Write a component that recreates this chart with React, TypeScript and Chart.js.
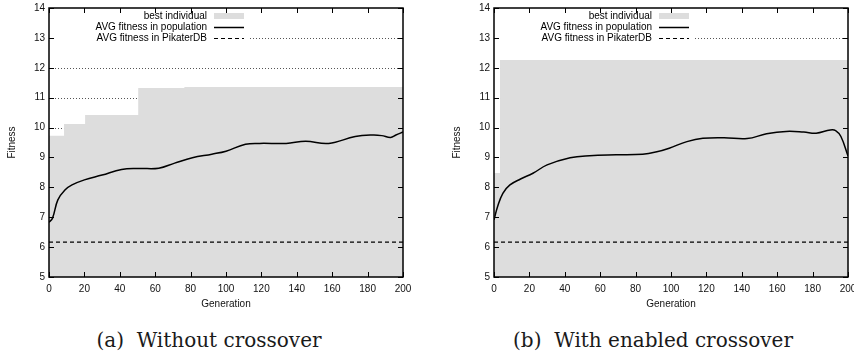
import React, { useEffect, useRef } from "react";
import { Chart, registerables } from "chart.js";

Chart.register(...registerables);

// ---------- data ----------
const GEN_TICKS = [0, 20, 40, 60, 80, 100, 120, 140, 160, 180, 200];
const FITNESS_TICKS = [5, 6, 7, 8, 9, 10, 11, 12, 13, 14];
const LEGEND_LABELS = ["best individual", "AVG fitness in population", "AVG fitness in PikaterDB"];

// (a) Without crossover
const leftBestGen = [0, 8.5, 20.4, 50.4, 76.5, 200];
const leftBestFitness = [9.73, 10.12, 10.42, 11.32, 11.36, 11.36];
const leftAvgGen = [0, 2, 5, 9, 13, 20, 30, 41, 51, 62, 71, 81, 92, 100, 111, 119, 134, 145, 158, 173, 183, 188, 193, 196, 200];
const leftAvgFitness = [6.83, 6.97, 7.58, 7.91, 8.08, 8.25, 8.41, 8.6, 8.63, 8.64, 8.81, 8.99, 9.11, 9.21, 9.44, 9.47, 9.47, 9.54, 9.47, 9.7, 9.75, 9.73, 9.67, 9.75, 9.85];
const leftDbFitness = 6.17;

// (b) With enabled crossover
const rightBestGen = [0, 3.4, 200];
const rightBestFitness = [8.48, 12.26, 12.26];
const rightAvgGen = [0, 2, 5, 9, 15, 22, 30, 43, 54, 69, 84, 92, 99, 109, 118, 130, 143, 154, 165, 175, 182, 190, 193, 196, 200];
const rightAvgFitness = [6.91, 7.35, 7.8, 8.08, 8.28, 8.47, 8.75, 8.99, 9.06, 9.09, 9.11, 9.19, 9.31, 9.53, 9.64, 9.66, 9.63, 9.79, 9.87, 9.85, 9.81, 9.92, 9.9, 9.7, 9.05];
const rightDbFitness = 6.17;

const FONT = '"Liberation Sans", Arial, Helvetica, sans-serif';

const gnuplotPlugin = {
  id: "gnuplotLook",
  beforeDatasetsDraw(chart: any) {
    const { ctx, chartArea: a, scales } = chart;
    const y = scales.y;
    ctx.save();
    ctx.strokeStyle = "#555";
    ctx.lineWidth = 1;
    ctx.setLineDash([1, 2]);
    FITNESS_TICKS.forEach((v) => {
      if (v === 5 || v === 14) return;
      const py = Math.round(y.getPixelForValue(v)) + 0.5;
      ctx.beginPath();
      ctx.moveTo(a.left, py);
      ctx.lineTo(a.right, py);
      ctx.stroke();
    });
    ctx.setLineDash([]);
    ctx.fillStyle = "#fff";
    ctx.fillRect(a.left + 1, a.top + 1, 199, 35);
    ctx.restore();
  },
  afterDatasetsDraw(chart: any) {
    const { ctx, chartArea: a, scales } = chart;
    const x = scales.x;
    const y = scales.y;
    ctx.save();
    ctx.strokeStyle = "#000";
    ctx.lineWidth = 1;
    FITNESS_TICKS.forEach((v) => {
      const py = Math.round(y.getPixelForValue(v)) + 0.5;
      ctx.beginPath();
      ctx.moveTo(a.left, py);
      ctx.lineTo(a.left + 5, py);
      ctx.moveTo(a.right, py);
      ctx.lineTo(a.right - 5, py);
      ctx.stroke();
    });
    GEN_TICKS.forEach((v) => {
      const px = Math.round(x.getPixelForValue(v)) + 0.5;
      ctx.beginPath();
      ctx.moveTo(px, a.bottom);
      ctx.lineTo(px, a.bottom - 5);
      ctx.moveTo(px, a.top);
      ctx.lineTo(px, a.top + 5);
      ctx.stroke();
    });
    ctx.lineWidth = 1.5;
    ctx.strokeRect(a.left, a.top, a.right - a.left, a.bottom - a.top);

    // legend
    ctx.font = "10px " + FONT;
    ctx.fillStyle = "#000";
    ctx.textAlign = "right";
    ctx.textBaseline = "middle";
    const tx = a.left + 158;
    const s0 = a.left + 165;
    const s1 = a.left + 195;
    const rows = [a.top + 8, a.top + 19, a.top + 30];
    LEGEND_LABELS.forEach((t, i) => ctx.fillText(t, tx, rows[i]));
    ctx.fillStyle = "#dddddd";
    ctx.fillRect(s0, rows[0] - 3, s1 - s0, 6);
    ctx.strokeStyle = "#000";
    ctx.lineWidth = 1.5;
    ctx.beginPath();
    ctx.moveTo(s0, rows[1] + 0.5);
    ctx.lineTo(s1, rows[1] + 0.5);
    ctx.stroke();
    ctx.lineWidth = 1.2;
    ctx.setLineDash([4, 3]);
    ctx.beginPath();
    ctx.moveTo(s0, rows[2] + 0.5);
    ctx.lineTo(s1, rows[2] + 0.5);
    ctx.stroke();
    ctx.restore();
  },
};

type PanelProps = {
  bestGen: number[];
  bestFit: number[];
  avgGen: number[];
  avgFit: number[];
  db: number;
  padLeft: number;
  padRight: number;
};

function Panel(props: PanelProps) {
  const ref = useRef<HTMLCanvasElement | null>(null);
  useEffect(() => {
    const c = ref.current;
    if (!c) return;
    const chart = new Chart(c, {
      type: "line",
      data: {
        datasets: [
          {
            label: LEGEND_LABELS[1],
            data: props.avgGen.map((g, i) => ({ x: g, y: props.avgFit[i] })),
            borderColor: "#000",
            borderWidth: 1.5,
            pointRadius: 0,
            tension: 0.4,
            fill: false,
            order: 1,
          },
          {
            label: LEGEND_LABELS[2],
            data: [
              { x: 0, y: props.db },
              { x: 200, y: props.db },
            ],
            borderColor: "#000",
            borderWidth: 1.2,
            borderDash: [4, 3],
            pointRadius: 0,
            fill: false,
            order: 2,
          },
          {
            label: LEGEND_LABELS[0],
            data: props.bestGen.map((g, i) => ({ x: g, y: props.bestFit[i] })),
            borderColor: "rgba(0,0,0,0)",
            borderWidth: 0,
            backgroundColor: "#dddddd",
            pointRadius: 0,
            stepped: true,
            fill: "start",
            order: 3,
          },
        ],
      } as any,
      options: {
        animation: false,
        responsive: false,
        layout: { padding: { left: props.padLeft, right: props.padRight, top: 8, bottom: 10 } },
        plugins: { legend: { display: false }, tooltip: { enabled: false } },
        scales: {
          x: {
            type: "linear",
            min: 0,
            max: 200,
            grid: { display: false, drawTicks: false },
            border: { display: false },
            ticks: {
              stepSize: 20,
              autoSkip: false,
              maxRotation: 0,
              padding: 6,
              color: "#111",
              font: { size: 10, family: FONT },
            },
            title: {
              display: true,
              text: "Generation",
              color: "#111",
              font: { size: 10, family: FONT },
              padding: { top: 2, bottom: 0 },
            },
            afterFit: (s: any) => {
              s.height = 33;
              s.paddingLeft = 0;
              s.paddingRight = 0;
            },
          },
          y: {
            type: "linear",
            min: 5,
            max: 14,
            grid: { display: false, drawTicks: false },
            border: { display: false },
            ticks: {
              stepSize: 1,
              padding: 4,
              color: "#111",
              font: { size: 10, family: FONT },
            },
            title: {
              display: true,
              text: "Fitness",
              color: "#111",
              font: { size: 10, family: FONT },
              padding: { top: 6, bottom: 0 },
            },
            afterFit: (s: any) => {
              s.width = 49;
              s.paddingTop = 0;
              s.paddingBottom = 0;
            },
          },
        },
      } as any,
      plugins: [gnuplotPlugin],
    });
    return () => chart.destroy();
  }, []);
  return <canvas ref={ref} width={427} height={320} style={{ display: "block", width: 427, height: 320 }} />;
}

const captionStyle: React.CSSProperties = {
  position: "absolute",
  top: 328,
  transform: "translateX(-50%)",
  whiteSpace: "pre",
  fontFamily: '"DejaVu Serif", "Liberation Serif", serif',
  fontSize: 20,
  lineHeight: "24px",
  color: "#1a1a1a",
};

export default function App() {
  return (
    <div style={{ position: "fixed", left: 0, top: 0, width: 854, height: 360, background: "#fff", overflow: "hidden" }}>
      <div style={{ position: "absolute", left: 0, top: 0 }}>
        <Panel bestGen={leftBestGen} bestFit={leftBestFitness} avgGen={leftAvgGen} avgFit={leftAvgFitness} db={leftDbFitness} padLeft={0} padRight={24} />
      </div>
      <div style={{ position: "absolute", left: 427, top: 0 }}>
        <Panel bestGen={rightBestGen} bestFit={rightBestFitness} avgGen={rightAvgGen} avgFit={rightAvgFitness} db={rightDbFitness} padLeft={18} padRight={6} />
      </div>
      <div style={{ ...captionStyle, left: 209 }}>{"(a)  Without crossover"}</div>
      <div style={{ ...captionStyle, left: 653 }}>{"(b)  With enabled crossover"}</div>
    </div>
  );
}
